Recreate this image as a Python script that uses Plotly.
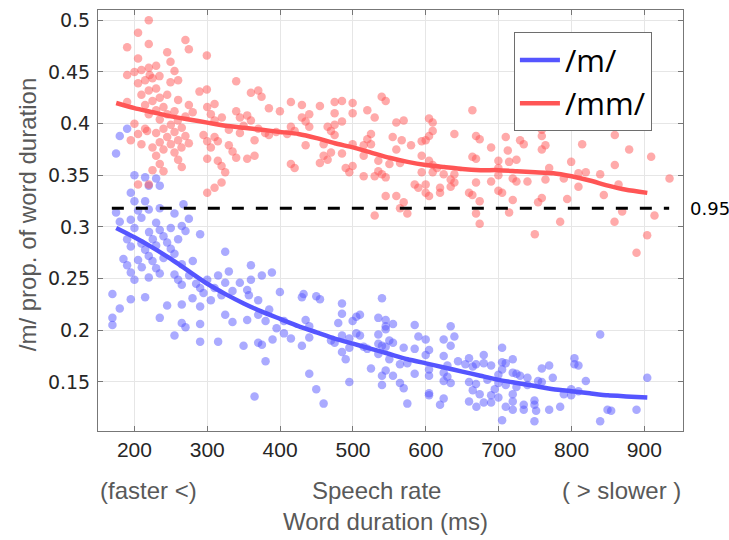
import plotly.graph_objects as go

# ---------------- data ----------------
red_x = [219.7,205,219.7,190,270,274.7,245,299.4,205,249.5,229.8,219.7,209.6,200,190,255,234.4,221,224.8,214.7,205,249.5,260,229.8,219.7,209.6,245,234.8,224.8,260,190,214.7,239.9,229.8,255,274.7,280,219.7,245,270,234.8,259.6,200,239.9,250,265,214.7,217.4,205,229.8,255,245,270,195,234.8,260,209.6,250,264.6,274.7,224.8,239.9,255,229.8,260,234.8,265,224.8,239.9,205,219.7,
         289.3,299.4,339.7,359.9,370,374.5,384.6,399.7,414.8,299.9,310,304.9,320,310,339.7,354.8,344.8,359.9,349.8,329.6,344.8,294.8,310,299.9,314.5,364.9,304.9,329.6,334.7,339.7,299.9,314.5,354.8,364.9,319.6,324.6,319.6,310,299.9,
         414.8,414.8,370,379.5,384.6,394.6,409.7,
         429.9,440,429.9,435,440,419.9,435,419.9,454.6,474.8,484.9,499.5,474.8,499.5,484.9,474.8,465.2,469.8,474.8,459.7,469.8,459.7,465.2,454.6,484.9,499.5,490,495,499.5,519.7,529.8,539.4,544.9,524.7,519.7,514.7,524.7,514.7,534.8,534.8,529.8,514.7,539.8,544.9,544.9,529.8,554.5,550,559.5,569.6,566.9,559.5,564.6,579.7,559.5,569.6,564.6,574.6,584.7,589.7,594.3,599.8,604.4,609.4,609.4,604.4,594.3,604.4,609.4,594.3,599.8,599.8,604.4,609.4,619.5,619.5,624.5,634.1,639.2,639.2,634.1,639.2,663.9,668.9,673.9,663.9,668.9,668.9,659.3,663.9,673.9,668.9,673.9,615.4,
         689.6,709.7,712.5,729.4,734.4,699.6,714.3,724.4,699.6,699.6,689.6,719.3,724.4,739.5,699.6,704.7,719.3,714.3,759.2,759.2,764.2,759.2,769.3,764.2,759.2,754.1,749.6,784.4,794,789.4,799.5,809.5,819.6,814.6,809.5,839.3,844.3,859.4,859.4,864.5,869.5,859,879.1,909.3,934.5,913.9,903.8,889.2]
red_y = [0.500,0.488,0.477,0.474,0.481,0.472,0.469,0.466,0.463,0.460,0.456,0.454,0.452,0.450,0.447,0.451,0.446,0.447,0.444,0.442,0.439,0.440,0.442,0.434,0.432,0.428,0.428,0.425,0.422,0.423,0.421,0.418,0.416,0.413,0.412,0.418,0.411,0.409,0.409,0.407,0.404,0.403,0.400,0.395,0.399,0.396,0.395,0.393,0.390,0.391,0.392,0.387,0.388,0.384,0.382,0.384,0.380,0.380,0.377,0.381,0.377,0.375,0.372,0.369,0.365,0.361,0.358,0.355,0.354,0.341,0.341,
         0.431,0.433,0.441,0.430,0.432,0.426,0.415,0.412,0.421,0.416,0.419,0.409,0.406,0.403,0.412,0.408,0.406,0.403,0.398,0.394,0.391,0.389,0.387,0.383,0.383,0.384,0.377,0.379,0.373,0.367,0.366,0.364,0.366,0.369,0.359,0.353,0.343,0.338,0.333,
         0.397,0.361,0.395,0.391,0.389,0.392,0.390,
         0.418,0.409,0.406,0.402,0.397,0.393,0.379,0.357,0.417,0.421,0.422,0.420,0.410,0.410,0.402,0.399,0.397,0.393,0.389,0.380,0.372,0.369,0.365,0.362,0.371,0.380,0.357,0.353,0.359,0.413,0.406,0.426,0.422,0.390,0.385,0.379,0.380,0.369,0.364,0.354,0.349,0.349,0.351,0.348,0.330,0.311,0.387,0.361,0.401,0.403,0.384,0.375,0.362,0.379,0.330,0.324,0.318,0.313,0.341,0.338,0.383,0.384,0.405,0.401,0.393,0.388,0.369,0.364,0.360,0.353,0.341,0.333,0.330,0.353,0.338,0.333,0.351,0.346,0.351,0.343,0.339,0.390,0.413,0.388,0.385,0.368,0.366,0.343,0.333,0.331,0.325,0.313,0.303,0.357,
         0.377,0.387,0.374,0.384,0.380,0.364,0.363,0.365,0.357,0.350,0.344,0.347,0.344,0.344,0.335,0.333,0.326,0.314,0.394,0.388,0.379,0.375,0.357,0.346,0.328,0.324,0.293,0.305,0.327,0.347,0.363,0.352,0.353,0.380,0.339,0.351,0.331,0.389,0.360,0.341,0.315,0.305,0.375,0.368,0.347,0.311,0.292,0.275]

blue_x = [190,179.9,174.8,200,214.7,229.8,234.8,219.7,195,200,214.7,219.7,205,234.8,267.3,174.8,255,274.7,209.6,195,179.9,229.8,200,
          220.1,234.8,239.9,225.2,229.8,244.9,249.9,270.1,265,260,290.2,190,195,209.6,214.7,219.7,224.8,229.8,234.8,239.9,249.9,255,205,184.9,190,195,200,210.1,219.7,265,280.1,275.1,260,265,255,284.7,294.8,290.2,299.9,304.9,279.7,290.2,265,244.9,234.8,265,270.1,255,290.2,290.2,314.9,214.7,195,179.9,169.8,169.8,169.8,324.6,314.9,309.9,319.5,324.6,329.6,334.6,344.7,354.8,359.9,359.9,374.9,388.7,357.1,369.9,385,369.9,380,354.8,324.6,334.6,349.8,369.9,375,389.6,380,399.7,405.2,395.1,405.2,414.8,364.9,
          429.9,432.2,449.6,454.7,484.9,484.9,479.8,499.5,504.6,509.6,435,440,429.9,440,469.8,474.8,484.9,484.9,490,495,495,504.6,509.6,514.6,519.7,440,449.6,459.7,495,524.7,539.8,534.8,544.9,544.9,544.9,554.9,534.8,534.8,534.8,539.8,544.9,549.9,554.9,549.9,544.9,539.8,539.8,554.9,564.5,569.6,574.6,564.5,569.6,574.6,584.7,589.8,584.7,584.7,599.8,604.4,599.8,604.4,604.4,604.4,604.4,619.5,624.5,624.5,624.5,624.5,624.5,634.1,639.2,634.1,629.6,629.6,634.1,644.2,654.3,659.3,664.4,668.9,679.5,679.5,659.3,664.4,668.9,673.9,679.5,659.3,669.4,
          689.6,684.5,689.6,689.6,699.6,694.6,699.6,699.6,704.7,704.7,704.7,709.7,709.7,709.7,704.7,719.3,719.3,724.4,729.4,724.4,719.3,719.3,719.3,734.4,734.4,739.5,739.5,749.1,749.1,751.4,749.1,754.1,759.2,759.2,769.3,774.3,769.3,784.4,789.4,799.5,799.5,804,804,809.5,809.5,819.6,839.3,839.3,849.4,854.4,889.2,903.9]
blue_y = [0.395,0.388,0.371,0.350,0.348,0.347,0.340,0.340,0.333,0.325,0.325,0.317,0.316,0.318,0.322,0.314,0.313,0.308,0.309,0.307,0.305,0.304,0.299,
          0.295,0.297,0.291,0.288,0.282,0.285,0.299,0.296,0.301,0.288,0.293,0.288,0.281,0.284,0.278,0.272,0.267,0.260,0.255,0.270,0.279,0.274,0.268,0.269,0.263,0.256,0.249,0.261,0.251,0.264,0.267,0.253,0.249,0.244,0.254,0.245,0.236,0.241,0.249,0.229,0.231,0.223,0.225,0.224,0.212,0.207,0.203,0.195,0.206,0.189,0.189,0.232,0.230,0.221,0.235,0.212,0.205,0.276,0.253,0.241,0.234,0.246,0.257,0.238,0.246,0.239,0.249,0.263,0.253,0.256,0.234,0.229,0.220,0.215,0.209,0.210,0.215,0.208,0.185,0.188,0.186,0.191,0.170,0.237,0.209,0.202,0.197,0.192,0.136,
          0.232,0.235,0.233,0.230,0.226,0.216,0.207,0.209,0.213,0.215,0.210,0.204,0.185,0.193,0.190,0.188,0.195,0.179,0.172,0.192,0.183,0.197,0.195,0.184,0.182,0.158,0.143,0.129,0.150,0.163,0.231,0.212,0.210,0.204,0.201,0.206,0.196,0.187,0.177,0.185,0.184,0.190,0.188,0.172,0.161,0.156,0.147,0.156,0.167,0.183,0.168,0.149,0.144,0.129,0.205,0.194,0.182,0.158,0.191,0.181,0.176,0.162,0.156,0.139,0.137,0.128,0.134,0.151,0.159,0.175,0.191,0.204,0.194,0.185,0.166,0.155,0.149,0.170,0.167,0.173,0.165,0.167,0.176,0.168,0.150,0.142,0.148,0.138,0.130,0.131,0.126,
          0.166,0.152,0.137,0.130,0.135,0.143,0.157,0.149,0.169,0.162,0.183,0.168,0.147,0.126,0.113,0.172,0.159,0.158,0.156,0.145,0.138,0.131,0.123,0.128,0.123,0.154,0.147,0.132,0.128,0.122,0.112,0.151,0.150,0.163,0.166,0.154,0.123,0.126,0.138,0.143,0.137,0.173,0.167,0.166,0.141,0.151,0.196,0.112,0.123,0.122,0.123,0.154]

fit_x = [175,200,225,250,275,300,325,350,375,400,425,450,475,500,525,550,575,600,625,650,675,700,725,750,775,800,825,850,875,904]
fit_mm = [0.420,0.415,0.411,0.407,0.404,0.401,0.398,0.396,0.394,0.392,0.390,0.386,0.381,0.377,0.372,0.367,0.363,0.360,0.358,0.356,0.355,0.355,0.354,0.353,0.352,0.349,0.345,0.340,0.336,0.333]
fit_m = [0.299,0.290,0.280,0.269,0.257,0.245,0.235,0.226,0.218,0.211,0.204,0.198,0.192,0.187,0.182,0.177,0.172,0.168,0.164,0.160,0.156,0.152,0.149,0.146,0.143,0.141,0.139,0.137,0.136,0.135]

threshold_x = [169, 934]
threshold_y = 0.318
threshold_label = "0.95"

x_ticks = [200, 300, 400, 500, 600, 700, 800, 900]
y_ticks = [0.15, 0.2, 0.25, 0.3, 0.35, 0.4, 0.45, 0.5]
y_ticklabels = ["0.15", "0.2", "0.25", "0.3", "0.35", "0.4", "0.45", "0.5"]

BLUE = "rgb(85,85,255)"
RED = "rgb(255,85,85)"
SANS = "Liberation Sans, Arial, sans-serif"
YFONT = "DejaVu Sans, sans-serif"

fig = go.Figure()
fig.add_trace(go.Scatter(x=blue_x, y=blue_y, mode="markers", showlegend=False,
                         marker=dict(size=8.5, color=BLUE, opacity=0.5, line=dict(width=0))))
fig.add_trace(go.Scatter(x=red_x, y=red_y, mode="markers", showlegend=False,
                         marker=dict(size=8.5, color=RED, opacity=0.5, line=dict(width=0))))
fig.add_trace(go.Scatter(x=fit_x, y=fit_m, mode="lines", name="/m/",
                         line=dict(color=BLUE, width=4.5, shape="spline", smoothing=0.5)))
fig.add_trace(go.Scatter(x=fit_x, y=fit_mm, mode="lines", name="/mm/",
                         line=dict(color=RED, width=4.5, shape="spline", smoothing=0.5)))
fig.add_trace(go.Scatter(x=threshold_x, y=[threshold_y] * len(threshold_x), mode="lines",
                         showlegend=False, line=dict(color="black", width=3, dash="12px,12px")))

fig.add_annotation(x=1.0085, xref="paper", y=threshold_y, yref="y", text=threshold_label,
                   showarrow=False, xanchor="left", yanchor="middle",
                   font=dict(family=YFONT, size=18, color="black"))

# x-axis titles
title_font = dict(family=SANS, size=24, color="#595959")
fig.add_annotation(x=0.0, xref="paper", y=-0.1425, yref="paper", text="(faster <)",
                   showarrow=False, xanchor="left", yanchor="middle", font=title_font)
fig.add_annotation(x=0.476, xref="paper", y=-0.1425, yref="paper", text="Speech rate",
                   showarrow=False, xanchor="center", yanchor="middle", font=title_font)
fig.add_annotation(x=1.0, xref="paper", y=-0.1425, yref="paper", text="( > slower )",
                   showarrow=False, xanchor="right", yanchor="middle", font=title_font)
fig.add_annotation(x=0.4906, xref="paper", y=-0.2138, yref="paper", text="Word duration (ms)",
                   showarrow=False, xanchor="center", yanchor="middle", font=title_font)
fig.add_annotation(x=-0.121, xref="paper", y=0.513, yref="paper", text="/m/ prop. of word duration",
                   showarrow=False, xanchor="center", yanchor="middle", textangle=-90, font=title_font)

fig.update_layout(
    width=729, height=540,
    margin=dict(l=98, r=46, t=10, b=109),
    paper_bgcolor="white", plot_bgcolor="white",
    showlegend=True,
    legend=dict(x=0.711, y=0.947, xanchor="left", yanchor="top",
                bgcolor="white", bordercolor="#6e6e6e", borderwidth=1,
                font=dict(family="Open Sans, sans-serif", size=31, color="black"),
                itemwidth=40, tracegroupgap=0),
    xaxis=dict(range=[150, 953], tickvals=x_ticks, ticks="inside", ticklen=5,
               tickcolor="#777", showline=True, linecolor="#777", linewidth=1, mirror="ticks",
               showgrid=True, gridcolor="#e6e6e6", gridwidth=1, zeroline=False,
               tickfont=dict(family=SANS, size=21, color="#262626")),
    yaxis=dict(range=[0.1025, 0.51], tickvals=y_ticks, ticktext=y_ticklabels, ticks="inside", ticklen=5,
               tickcolor="#777", showline=True, linecolor="#777", linewidth=1, mirror="ticks",
               showgrid=True, gridcolor="#e6e6e6", gridwidth=1, zeroline=False,
               ticklabelstandoff=3,
               tickfont=dict(family=YFONT, size=19, color="#262626")),
)

fig.write_html("out.html", config={"displayModeBar": False},
               post_script="document.body.style.margin='0px';document.body.style.overflow='hidden';")
